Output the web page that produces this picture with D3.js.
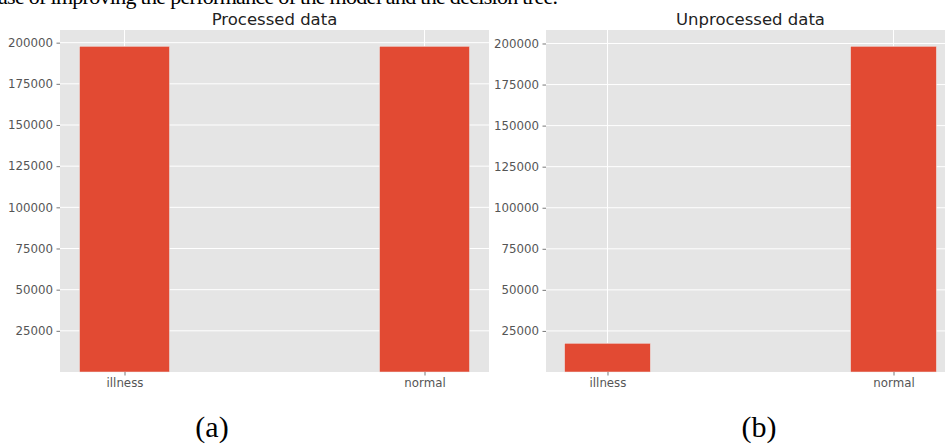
<!DOCTYPE html>
<html>
<head>
<meta charset="utf-8">
<script src="https://cdn.jsdelivr.net/npm/d3@7"></script>
<style>
  body { margin: 0; background: #fff; }
  svg { display: block; }
</style>
</head>
<body>
<div id="chart"></div>
<script>
// data
const categories = ['illness', 'normal'];
const processedCounts = [197800, 197800];
const unprocessedCounts = [17500, 198300];
const yTicks = [25000, 50000, 75000, 100000, 125000, 150000, 175000, 200000];
const panelTitles = ['Processed data', 'Unprocessed data'];
const captions = ['(a)', '(b)'];

const width = 945, height = 444;

const svg = d3.select('#chart').append('svg')
  .attr('width', width)
  .attr('height', height);

// clipped line of body text above the figure (only its lower edge shows)
svg.append('text')
  .attr('x', -2)
  .attr('y', 4)
  .attr('font-family', 'Liberation Serif, serif')
  .attr('font-size', 22)
  .attr('fill', '#000')
  .attr('textLength', 560)
  .text('ase of improving the performance of the model and the decision tree.');

function drawPanel(opts) {
  const {left, right, top, bottom, values, title, caption, captionX} = opts;

  const x = d3.scalePoint()
    .domain(categories)
    .range([left, right])
    .padding(0.215);
  const barW = x.step() * 0.3;

  const y = d3.scaleLinear()
    .domain([0, d3.max(values) * 1.05])
    .range([bottom, top]);

  const g = svg.append('g');

  g.append('rect')
    .attr('x', left)
    .attr('y', top)
    .attr('width', right - left)
    .attr('height', bottom - top)
    .attr('fill', '#E5E5E5');

  // grid
  g.append('g').selectAll('line')
    .data(yTicks)
    .join('line')
      .attr('x1', left).attr('x2', right)
      .attr('y1', d => y(d)).attr('y2', d => y(d))
      .attr('stroke', '#fff')
      .attr('stroke-width', 1);

  g.append('g').selectAll('line')
    .data(categories)
    .join('line')
      .attr('x1', d => x(d)).attr('x2', d => x(d))
      .attr('y1', top).attr('y2', bottom)
      .attr('stroke', '#fff')
      .attr('stroke-width', 1);

  // bars
  g.append('g').selectAll('rect')
    .data(values)
    .join('rect')
      .attr('x', (d, i) => x(categories[i]) - barW / 2)
      .attr('y', d => y(d))
      .attr('width', barW)
      .attr('height', d => y(0) - y(d))
      .attr('fill', '#E24A33')
      .attr('stroke', '#EEEEEE')
      .attr('stroke-width', 0.5);

  // axes
  const yAxis = d3.axisLeft(y)
    .tickValues(yTicks)
    .tickSize(3.5)
    .tickPadding(3.5)
    .tickFormat(d3.format('d'));
  const ya = g.append('g')
    .attr('transform', `translate(${left},0)`)
    .call(yAxis);

  const xAxis = d3.axisBottom(x)
    .tickSize(3.5)
    .tickPadding(3.5);
  const xa = g.append('g')
    .attr('transform', `translate(0,${bottom})`)
    .call(xAxis);

  [ya, xa].forEach(a => {
    a.select('.domain').remove();
    a.selectAll('.tick line').attr('stroke', '#555').attr('stroke-width', 0.8);
    a.selectAll('.tick text')
      .attr('fill', '#555')
      .attr('font-family', 'DejaVu Sans, sans-serif')
      .attr('font-size', 11.8);
  });

  g.append('text')
    .attr('x', (left + right) / 2)
    .attr('y', 25)
    .attr('text-anchor', 'middle')
    .attr('font-family', 'DejaVu Sans, sans-serif')
    .attr('font-size', 16.5)
    .attr('fill', '#222')
    .text(title);

  g.append('text')
    .attr('x', captionX)
    .attr('y', 437)
    .attr('text-anchor', 'middle')
    .attr('font-family', 'Liberation Serif, serif')
    .attr('font-size', 30)
    .attr('fill', '#000')
    .text(caption);
}

drawPanel({
  left: 60, right: 489, top: 30, bottom: 372,
  values: processedCounts, title: panelTitles[0],
  caption: captions[0], captionX: 212
});

drawPanel({
  left: 546, right: 955, top: 30, bottom: 372,
  values: unprocessedCounts, title: panelTitles[1],
  caption: captions[1], captionX: 759
});
</script>
</body>
</html>
